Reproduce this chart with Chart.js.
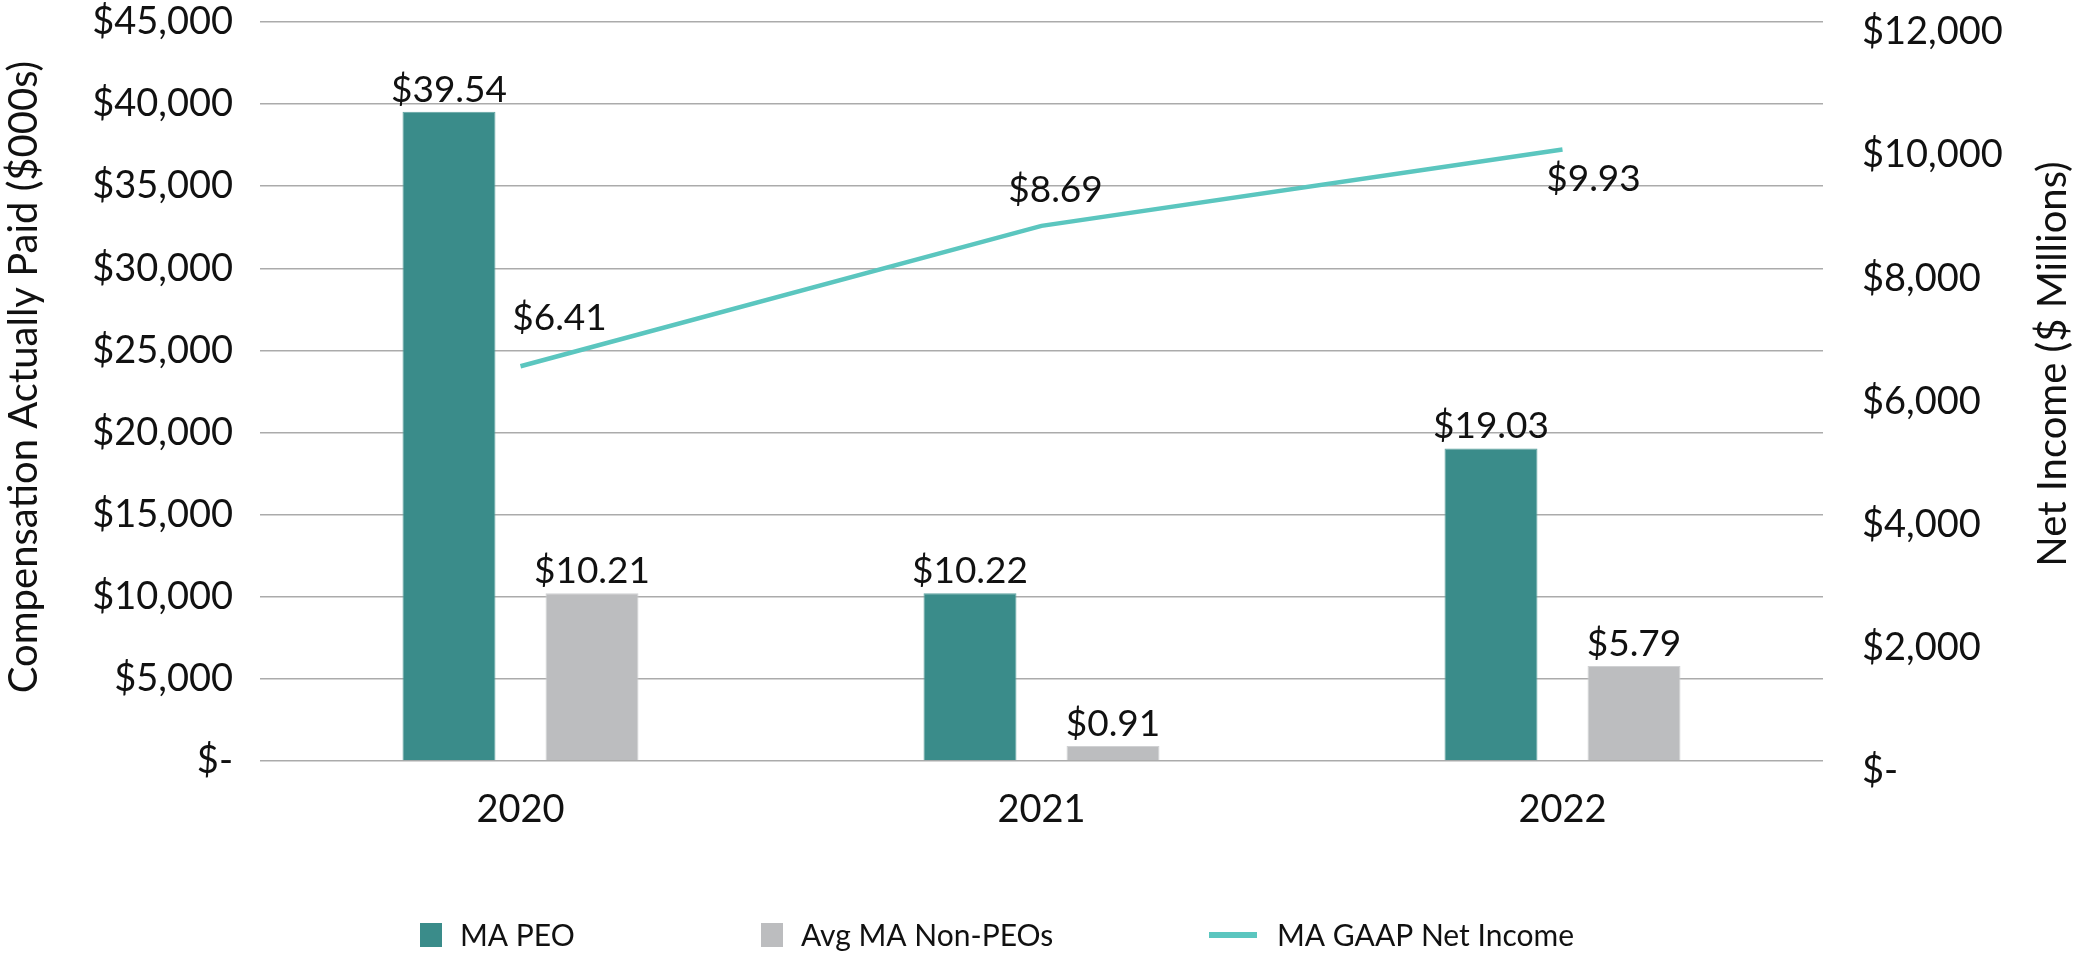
<!DOCTYPE html>
<html>
<head>
<meta charset="utf-8">
<script src="https://cdn.jsdelivr.net/npm/chart.js@4.4.0/dist/chart.umd.min.js"></script>
<style>
  html, body { margin: 0; padding: 0; background: #ffffff; }
  #wrap { width: 2076px; height: 961px; position: relative; }
  canvas { display: block; }
</style>
</head>
<body>
<div id="wrap"><canvas id="chart" width="2076" height="961"></canvas></div>
<script>
// ---------------- DATA ----------------
const categories = ['2020', '2021', '2022'];
const seriesNames = ['MA PEO', 'Avg MA Non-PEOs', 'MA GAAP Net Income'];
// Compensation Actually Paid, $000s
const peoValues = [39540, 10220, 19030];
const nonPeoValues = [10210, 910, 5790];
// Net income, $ millions
const netIncomeValues = [6410, 8690, 9930];
// Axis ticks
const leftAxisMax = 45000;
const leftAxisStep = 5000;
const rightAxisMax = 12000;
const rightAxisStep = 2000;
const leftAxisTitle = 'Compensation Actually Paid ($000s)';
const rightAxisTitle = 'Net Income ($ Millions)';

// ---------------- STYLE ----------------
const FONT = 'Lato, "Open Sans", "Noto Sans", sans-serif';
const TEAL = '#3A8C8A';
const GRAY = '#BCBDBF';
const LINE = '#5BC6BF';
const TEXT = '#111111';
const GRID = '#ABABAB';

function money(v) {
  if (v === 0) return '$-';
  return '$' + v.toLocaleString('en-US');
}
function shortMoney(v) {
  return '$' + (v / 1000).toFixed(2);
}

const valueLabelPlugin = {
  id: 'valueLabels',
  afterDatasetsDraw(chart, args, opts) {
    const ctx = chart.ctx;
    ctx.save();
    ctx.font = opts.fontWeight + ' ' + opts.fontSize + 'px ' + FONT;
    ctx.fillStyle = TEXT;
    ctx.textAlign = 'center';
    ctx.textBaseline = 'alphabetic';
    chart.data.datasets.forEach((ds, i) => {
      const meta = chart.getDatasetMeta(i);
      meta.data.forEach((el, j) => {
        const txt = shortMoney(ds.data[j]);
        if (ds.type === 'line') {
          const off = opts.lineOffsets[j];
          ctx.fillText(txt, el.x + off[0], el.y + off[1]);
        } else {
          ctx.fillText(txt, el.x, el.y - opts.barGap);
        }
      });
    });
    ctx.restore();
  }
};

const decorPlugin = {
  id: 'decor',
  afterDraw(chart, args, opts) {
    const ctx = chart.ctx;
    ctx.save();
    // axis titles
    ctx.fillStyle = TEXT;
    ctx.font = opts.titleWeight + ' ' + opts.titleSize + 'px ' + FONT;
    ctx.textAlign = 'center';
    ctx.textBaseline = 'middle';
    [[leftAxisTitle, opts.leftTitlePos], [rightAxisTitle, opts.rightTitlePos]].forEach(([t, p]) => {
      ctx.save();
      ctx.translate(p[0], p[1]);
      ctx.rotate(-Math.PI / 2);
      ctx.fillText(t, 0, 0);
      ctx.restore();
    });
    // legend
    ctx.font = opts.legendWeight + ' ' + opts.legendSize + 'px ' + FONT;
    ctx.textAlign = 'left';
    ctx.textBaseline = 'middle';
    const y = opts.legendY;
    chart.data.datasets.forEach((ds, i) => {
      const x = opts.legendX[i];
      let textX;
      if (ds.type === 'line') {
        ctx.strokeStyle = ds.borderColor;
        ctx.lineWidth = 6;
        ctx.beginPath();
        ctx.moveTo(x, y);
        ctx.lineTo(x + 48, y);
        ctx.stroke();
        textX = x + 68;
      } else {
        ctx.fillStyle = ds.backgroundColor;
        ctx.fillRect(x, y - 12, 22, 24);
        textX = x + 40;
      }
      ctx.fillStyle = TEXT;
      ctx.fillText(ds.label, textX, y + 1);
    });
    ctx.restore();
  }
};

function fixVertical(width) {
  return function (s) {
    s.width = width;
    s.paddingTop = 0;
    s.paddingBottom = 0;
  };
}

const ctx = document.getElementById('chart').getContext('2d');
new Chart(ctx, {
  type: 'bar',
  data: {
    labels: categories,
    datasets: [
      {
        label: seriesNames[0],
        data: peoValues,
        yAxisID: 'y',
        backgroundColor: TEAL,
        borderColor: '#5FA3A1',
        borderWidth: 1,
        categoryPercentage: 0.549,
        barPercentage: 0.65,
        order: 1
      },
      {
        label: seriesNames[1],
        data: nonPeoValues,
        yAxisID: 'y',
        backgroundColor: GRAY,
        borderColor: '#D0D1D3',
        borderWidth: 1,
        categoryPercentage: 0.549,
        barPercentage: 0.65,
        order: 1
      },
      {
        type: 'line',
        label: seriesNames[2],
        data: netIncomeValues,
        yAxisID: 'y1',
        borderColor: LINE,
        backgroundColor: LINE,
        borderWidth: 4.5,
        pointRadius: 0,
        tension: 0,
        order: 0
      }
    ]
  },
  options: {
    responsive: false,
    animation: false,
    devicePixelRatio: 1,
    layout: { padding: { top: 22, left: 0, right: 0, bottom: 0 } },
    plugins: {
      legend: { display: false },
      tooltip: { enabled: false },
      valueLabels: { fontSize: 37, fontWeight: 'normal', barGap: 10, lineOffsets: [[39, -36], [14, -24], [31, 42]] },
      decor: {
        titleSize: 40, titleWeight: 'normal',
        leftTitlePos: [24, 377], rightTitlePos: [2053, 364],
        legendSize: 30, legendWeight: 'normal',
        legendY: 935, legendX: [420, 761, 1209]
      }
    },
    scales: {
      x: {
        grid: { display: false, drawTicks: false },
        border: { display: false },
        ticks: { color: TEXT, font: { size: 38, family: FONT }, padding: 26 },
        afterFit(s) { s.height = 200; }
      },
      y: {
        position: 'left',
        min: 0,
        max: leftAxisMax,
        ticks: {
          stepSize: leftAxisStep,
          color: TEXT,
          font: { size: 38, family: FONT, lineHeight: 1.0 },
          padding: 27,
          callback: (v) => money(v)
        },
        grid: { color: GRID, lineWidth: 1.5, drawTicks: false },
        border: { display: false },
        afterFit: fixVertical(260)
      },
      y1: {
        position: 'right',
        min: 0,
        max: rightAxisMax,
        ticks: {
          stepSize: rightAxisStep,
          color: TEXT,
          font: { size: 38, family: FONT, lineHeight: 1.0 },
          padding: 39,
          labelOffset: 10,
          callback: (v) => money(v)
        },
        grid: { display: false, drawTicks: false },
        border: { display: false },
        afterFit: fixVertical(253)
      }
    }
  },
  plugins: [valueLabelPlugin, decorPlugin]
});
</script>
</body>
</html>
